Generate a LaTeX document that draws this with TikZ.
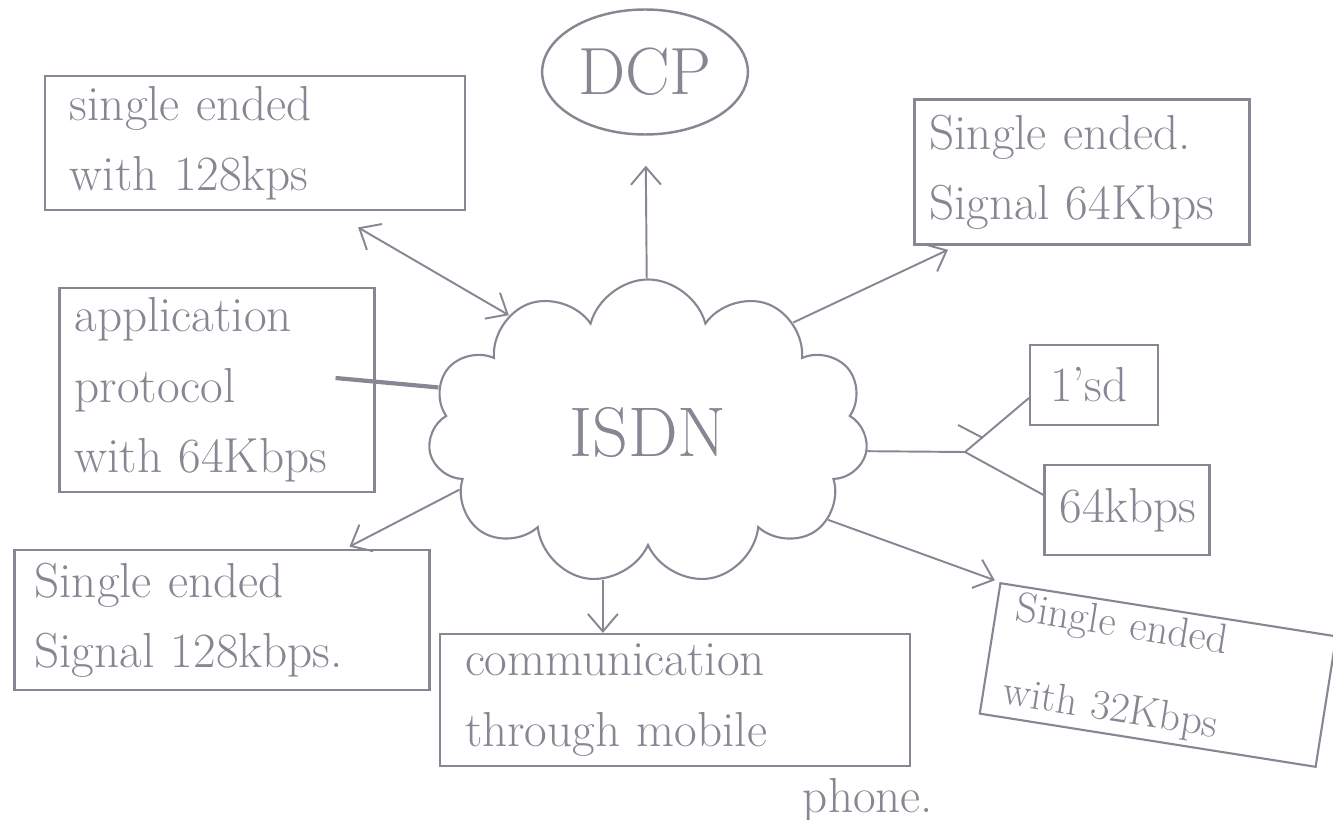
\documentclass[tikz,border=0pt]{standalone}
\usepackage{tikz}
\usetikzlibrary{arrows.meta, positioning, shapes.geometric, shapes.symbols}
\definecolor{pencil}{RGB}{135,135,148}
\tikzset {
    >={Straight Barb[length=3.5mm,width=6mm]},
    box/.style={draw=pencil, line width=1.2pt, text=pencil, align=left,
        inner xsep=5mm, inner ysep=2mm, font=\fontsize{28}{40}\selectfont},
    link/.style={draw=pencil, line width=1.1pt}
}

\begin{document}
\begin{tikzpicture}[x=0.2mm, y=-0.2mm]
    \useasboundingbox (0,0) rectangle (1333,820);

    \node[cloud, draw=pencil, line width=1.2pt, text=pencil, cloud puffs=11, cloud puff arc=150,
          aspect=1.45, minimum width=88mm, minimum height=61mm,
          font=\fontsize{40}{40}\selectfont] (isdn) at (648,432) {ISDN};
    \node[ellipse, draw=pencil, line width=1.4pt, text=pencil, minimum width=40mm, minimum height=25mm,
          font=\fontsize{38}{38}\selectfont] (dcp) at (645,72) {DCP};

    \node[box, text width=74mm, minimum height=24.6mm] (tl) at (255,143) {single ended\\with 128kps};
    \node[box, text width=61mm, minimum height=29mm, inner xsep=3mm] (tr) at (1082,172) {Single ended.\\Signal 64Kbps};
    \node[box, text width=57mm, minimum height=30mm, inner xsep=3mm] (app) at (217,390) {application\\protocol\\with 64Kbps};
    \node[box, text width=17.6mm, minimum height=16mm, inner xsep=4mm] (isd) at (1094,385) {1'sd};
    \node[box, text width=27mm, minimum height=18mm, inner xsep=3mm] (kbps) at (1127,510) {64kbps};
    \node[box, text width=75mm, minimum height=28mm, inner xsep=4mm] (bl) at (222,620) {Single ended\\Signal 128kbps.};
    \node[box, text width=84mm, minimum height=24mm] (mob) at (675,700) {communication\\through mobile};
    \node[text=pencil, font=\fontsize{28}{40}\selectfont] (phone) at (868,800) {phone.};
    \node[box, rotate=-9, text width=60mm, minimum height=22mm, inner xsep=4mm, inner ysep=1mm,
          font=\fontsize{24}{48}\selectfont] (sre) at (1158,675) {Single ended\\with 32Kbps};

    \coordinate (fork) at (965,452);

    % links out of the cloud
    \draw[link, ->, shorten >=6mm] (isdn) -- (dcp);
    \draw[link, <->, shorten <=6.5mm] ([xshift=15mm]tl.south) -- (isdn.140);
    \draw[link, ->, shorten >=2mm] (isdn.37) -- ([xshift=-25mm]tr.south);
    \draw[link, line width=2.4pt] ([xshift=-8mm, yshift=2.4mm]app.east) -- (isdn.168);
    \draw[link, ->, shorten >=1mm] (isdn.197) -- ([xshift=24.6mm]bl.north);
    \draw[link, ->] (isdn.253) -- (isdn.253 |- mob.north);
    \draw[link, ->, shorten >=1mm] (isdn.-26) -- (sre.north west);
    \draw[link] (isdn.-5) -- (fork);
    \draw[link] (fork) -- ([yshift=-2.6mm]isd.west);
    \draw[link] (fork) -- ([yshift=3mm]kbps.west);
    \draw[link] ([xshift=-1.4mm, yshift=5.4mm]fork) -- ([xshift=3.6mm, yshift=2.8mm]fork);
\end{tikzpicture}
\end{document}
